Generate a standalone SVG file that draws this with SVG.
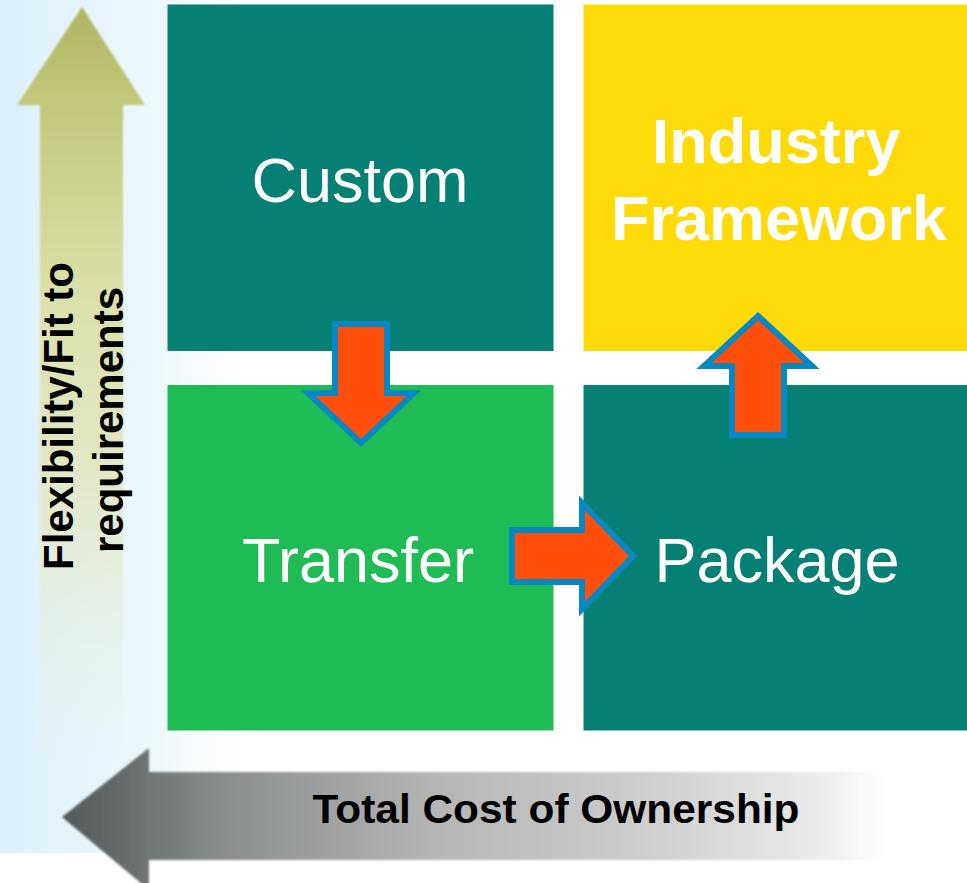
<svg xmlns="http://www.w3.org/2000/svg" width="967" height="883" viewBox="0 0 967 883">
<defs>
<linearGradient id="bgPanel" x1="0" y1="0" x2="1" y2="0">
<stop offset="0" stop-color="#DCF0FA"/>
<stop offset="0.62" stop-color="#EEF8FC"/>
<stop offset="1" stop-color="#FFFFFF" stop-opacity="0"/>
</linearGradient>
<linearGradient id="upHead" x1="0" y1="0" x2="0" y2="1">
<stop offset="0" stop-color="#B0B462"/>
<stop offset="1" stop-color="#C4C87C"/>
</linearGradient>
<linearGradient id="upShaft" x1="0" y1="0" x2="0" y2="1">
<stop offset="0" stop-color="#C3C77B"/>
<stop offset="0.3" stop-color="#DCE1AC"/>
<stop offset="0.55" stop-color="#E2E7C4"/>
<stop offset="0.85" stop-color="#E6EED8" stop-opacity="0.3"/>
<stop offset="1" stop-color="#E6EED8" stop-opacity="0"/>
</linearGradient>
<linearGradient id="leftArrow" gradientUnits="userSpaceOnUse" x1="62" y1="0" x2="890" y2="0">
<stop offset="0" stop-color="#525858"/>
<stop offset="0.2" stop-color="#8A8E8E"/>
<stop offset="0.45" stop-color="#B5B5B5"/>
<stop offset="0.7" stop-color="#CDCDCD"/>
<stop offset="0.92" stop-color="#EBEBEB"/>
<stop offset="1" stop-color="#F5F5F5" stop-opacity="0"/>
</linearGradient>
<filter id="soft" x="-5%" y="-5%" width="110%" height="110%">
<feGaussianBlur stdDeviation="1.2"/>
</filter>
<style>
.box-teal{fill:#067F75;}
.box-green{fill:#1FBB55;}
.box-yellow{fill:#FEDA08;}
.lbl{font-family:"Liberation Sans",Arial,sans-serif;fill:#FFFFFF;font-size:63px;text-anchor:middle;}
.bold{font-weight:bold;}
.axis{font-family:"Liberation Sans",Arial,sans-serif;fill:#000000;font-weight:bold;text-anchor:middle;}
.flow{fill:#FF4F0A;stroke:#0788C2;stroke-width:6;stroke-linejoin:miter;}
</style>
</defs>
<rect width="967" height="883" fill="#FFFFFF"/>
<g id="axis-background">
<rect x="0" y="0" width="265" height="853" fill="url(#bgPanel)"/>
</g>
<g id="axis-vertical">
<g filter="url(#soft)">
<rect x="40" y="104" width="83" height="660" fill="url(#upShaft)"/>
<polygon points="82,7 145,105 17,105" fill="url(#upHead)"/>
</g>
<text class="axis" font-size="42" transform="translate(73,416) rotate(-90)">Flexibility/Fit to</text>
<text class="axis" font-size="42" transform="translate(123,420) rotate(-90)">requirements</text>
</g>
<g id="axis-horizontal">
<polygon points="62,817 149,748 149,772 890,772 890,860 149,860 149,890" fill="url(#leftArrow)" filter="url(#soft)"/>
<text class="axis" font-size="41" x="556" y="823" textLength="487" lengthAdjust="spacingAndGlyphs">Total Cost of Ownership</text>
</g>
<g id="node-custom">
<rect class="box-teal" x="167.5" y="4.5" width="386" height="346.5"/>
<text class="lbl" x="360" y="202">Custom</text>
</g>
<g id="node-industry-framework">
<rect class="box-yellow" x="583.5" y="4.5" width="384" height="346.5"/>
<text class="lbl bold" x="776" y="163">Industry</text>
<text class="lbl bold" x="779" y="240">Framework</text>
</g>
<g id="node-transfer">
<rect class="box-green" x="167.5" y="385" width="386" height="345.5"/>
<text class="lbl" x="358" y="582">Transfer</text>
</g>
<g id="node-package">
<rect class="box-teal" x="583.5" y="385" width="384" height="345.5"/>
<text class="lbl" x="777" y="582">Package</text>
</g>
<g id="connectors">
<polygon class="flow" points="335,324 387,324 387,393 414,393 361,443 308,393 335,393"/>
<polygon class="flow" points="512,530 582,530 582,503 633,556 582,609 582,582 512,582"/>
<polygon class="flow" points="758,316 812,366 784,366 784,435 732,435 732,366 704,366"/>
</g>
</svg>
